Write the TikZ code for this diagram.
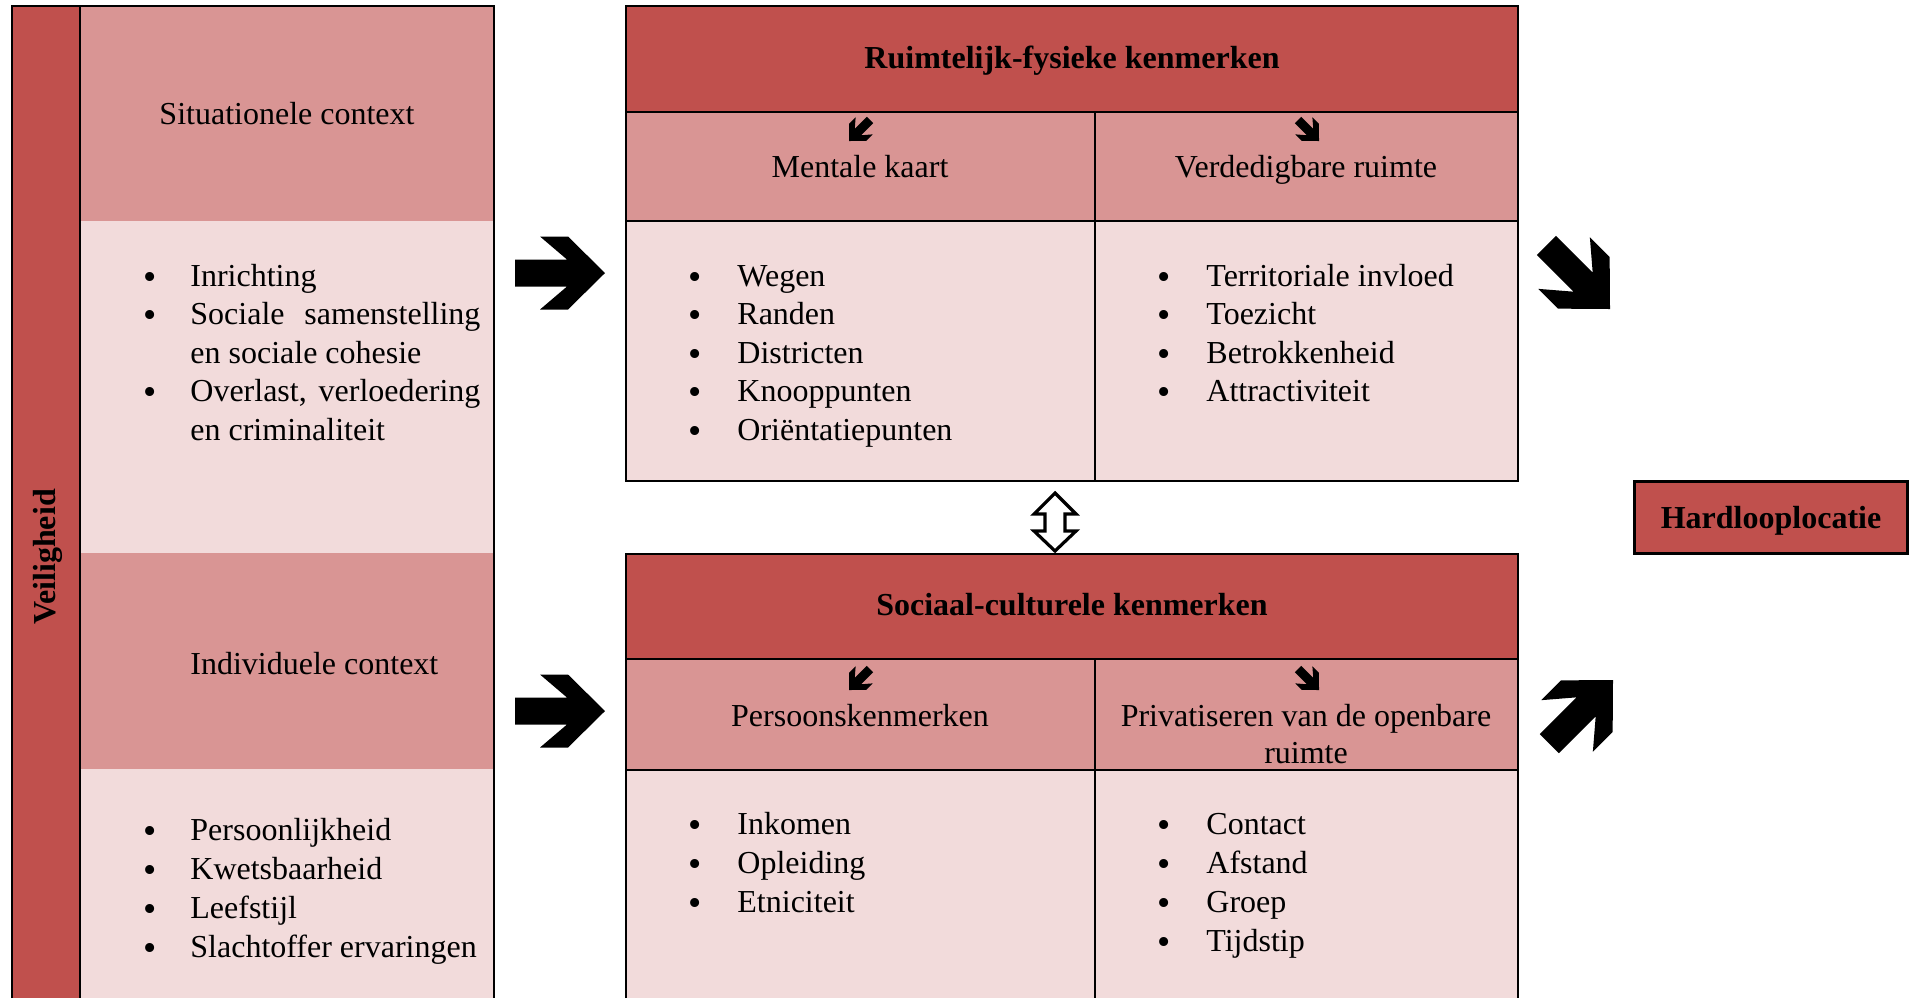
\documentclass[tikz,border=0pt]{standalone}
\usepackage{fontspec}
\setmainfont{Liberation Serif}
\definecolor{donker}{HTML}{C0504D}
\definecolor{midden}{HTML}{D99594}
\definecolor{licht}{HTML}{F2DBDB}
\begin{document}
\begin{tikzpicture}[x=.5pt, y=-.5pt, line join=miter]
	\tikzset{tekst/.style={inner sep=0pt, font=\fontsize{16}{19.25}\selectfont},
		kop/.style={tekst, font=\fontsize{16}{19.25}\selectfont\bfseries},
		regel/.style={tekst, anchor=base west},
		punt/.style={tekst, anchor=base, yshift=-1.5pt},
		kader/.style={line width=1.4pt},
		lijn/.style={line width=1pt},
		blokpijl/.pic={\fill (-90,-13.5)--(-38,-13.5)--(-65,-36.5)--(-37,-36.5)--(0,0)--(-37,36.5)--(-65,36.5)--(-38,13.5)--(-90,13.5)--cycle;}}
	\newcommand{\bol}{\scalebox{1.18}{\textbullet}}
	\useasboundingbox (0,0) rectangle (1910,998);
	% linker kolom
	\fill[donker] (12,6) rectangle (80,998);
	\fill[midden] (80,6) rectangle (494,221);
	\fill[licht] (80,221) rectangle (494,553);
	\fill[midden] (80,553) rectangle (494,769);
	\fill[licht] (80,769) rectangle (494,998);
	\draw[kader] (12,998)--(12,6)--(494,6)--(494,998);
	\draw[lijn] (80,6)--(80,998);
	\node[kop, anchor=base, rotate=90] (veiligheid) at (55,557) {Veiligheid};
	\node[tekst, anchor=base] (situationeel) at (287,124) {Situationele context};
	\node[regel] (individueel) at (190,674) {Individuele context};
	\foreach \t [count=\i] in {Inrichting,{\makebox[145pt][s]{Sociale samenstelling}},en sociale cohesie,{\makebox[145pt][s]{Overlast, verloedering}},en criminaliteit}
		\node[regel] (sc-\i) at (190,{286+38.5*(\i-1)}) {\t};
	\foreach \i in {1,2,4}
		\node[punt] (sc-p\i) at (150,{286+38.5*(\i-1)}) {\bol};
	\foreach \t [count=\i] in {Persoonlijkheid,Kwetsbaarheid,Leefstijl,Slachtoffer ervaringen}{
		\node[punt] (ic-p\i) at (150,{840+39*(\i-1)}) {\bol};
		\node[regel] (ic-\i) at (190,{840+39*(\i-1)}) {\t};}
	% ruimtelijk-fysiek
	\fill[donker] (626,6) rectangle (1518,112);
	\fill[midden] (626,112) rectangle (1518,221);
	\fill[licht] (626,221) rectangle (1518,481);
	\draw[lijn] (626,112)--(1518,112) (626,221)--(1518,221) (1095,112)--(1095,481);
	\draw[kader] (626,6) rectangle (1518,481);
	\node[kop, anchor=base] (ruimtelijk) at (1072,68) {Ruimtelijk-fysieke kenmerken};
	\node[tekst, anchor=base] (mentaal) at (860,177) {Mentale kaart};
	\node[tekst, anchor=base] (verdedigbaar) at (1306,177) {Verdedigbare ruimte};
	\pic[rotate=-135, scale=.33] at (849,141) {blokpijl};
	\pic[rotate=-45, scale=.33] at (1319,141) {blokpijl};
	\foreach \t [count=\i] in {Wegen,Randen,Districten,Knooppunten,Oriëntatiepunten}{
		\node[punt] (mk-p\i) at (695,{286+38.5*(\i-1)}) {\bol};
		\node[regel] (mk-\i) at (737,{286+38.5*(\i-1)}) {\t};}
	\foreach \t [count=\i] in {Territoriale invloed,Toezicht,Betrokkenheid,Attractiviteit}{
		\node[punt] (vr-p\i) at (1164,{286+38.5*(\i-1)}) {\bol};
		\node[regel] (vr-\i) at (1206,{286+38.5*(\i-1)}) {\t};}
	% sociaal-cultureel
	\fill[donker] (626,554) rectangle (1518,659);
	\fill[midden] (626,659) rectangle (1518,770);
	\fill[licht] (626,770) rectangle (1518,998);
	\draw[lijn] (626,659)--(1518,659) (626,770)--(1518,770) (1095,659)--(1095,998);
	\draw[kader] (626,998)--(626,554)--(1518,554)--(1518,998);
	\node[kop, anchor=base] (sociaal) at (1072,615) {Sociaal-culturele kenmerken};
	\node[tekst, anchor=base] (persoon) at (860,726) {Persoonskenmerken};
	\node[tekst, anchor=base] (privaat) at (1306,726) {Privatiseren van de openbare};
	\node[tekst, anchor=base] (privaat-2) at (1306,763) {ruimte};
	\pic[rotate=-135, scale=.33] at (849,690) {blokpijl};
	\pic[rotate=-45, scale=.33] at (1319,690) {blokpijl};
	\foreach \t [count=\i] in {Inkomen,Opleiding,Etniciteit}{
		\node[punt] (pk-p\i) at (695,{834+39*(\i-1)}) {\bol};
		\node[regel] (pk-\i) at (737,{834+39*(\i-1)}) {\t};}
	\foreach \t [count=\i] in {Contact,Afstand,Groep,Tijdstip}{
		\node[punt] (pr-p\i) at (1164,{834+39*(\i-1)}) {\bol};
		\node[regel] (pr-\i) at (1206,{834+39*(\i-1)}) {\t};}
	% pijlen
	\pic at (605,273) {blokpijl};
	\pic at (605,711) {blokpijl};
	\pic[rotate=-45] at (1610,309) {blokpijl};
	\pic[rotate=45] at (1613,680) {blokpijl};
	\draw[line width=1.6pt, fill=white] (1055,493)--(1034,514)--(1045,514)--(1045,531)--(1034,531)--(1055,551)--(1076,531)--(1065,531)--(1065,514)--(1076,514)--cycle;
	% uitkomst
	\node[kop, draw, kader, fill=donker, text depth=0pt, minimum width=136.5pt, minimum height=36pt] (hardloop) at (1771,517.5) {Hardlooplocatie};
\end{tikzpicture}
\end{document}
